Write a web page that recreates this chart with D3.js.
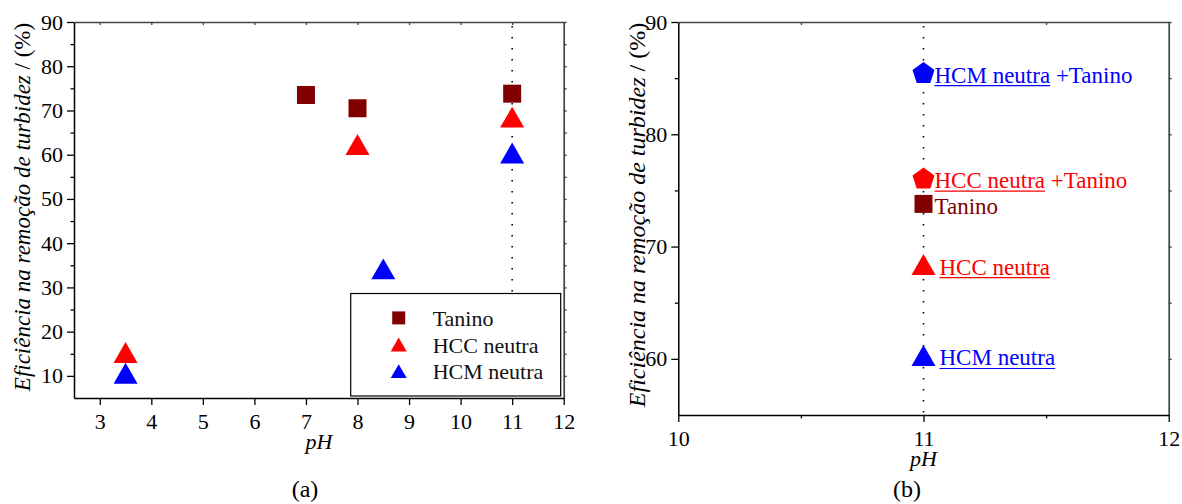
<!DOCTYPE html>
<html>
<head>
<meta charset="utf-8">
<script src="https://cdn.jsdelivr.net/npm/d3@7"></script>
<style>
  body { margin: 0; background: #fff; }
</style>
</head>
<body>
<div id="chart"></div>
<script>
// ---- panel (a): efficiency vs pH ----
const phTanino = [7, 8, 11];
const effTanino = [73.5, 70.5, 73.8];
const phHcc = [3.5, 8, 11];
const effHcc = [15.3, 62.3, 68.5];
const phHcm = [3.5, 8.5, 11];
const effHcm = [10.6, 34.2, 60.4];
const legendNames = ["Tanino", "HCC neutra", "HCM neutra"];
const xTicksA = [3, 4, 5, 6, 7, 8, 9, 10, 11, 12];
const yTicksA = [10, 20, 30, 40, 50, 60, 70, 80, 90];
const yMinorA = [15, 25, 35, 45, 55, 65, 75, 85];

// ---- panel (b): everything at pH 11 ----
const phB = 11;
const seriesB = ["HCM+T", "HCC+T", "Tanino", "HCC", "HCM"];
const underlinedB = ["HCM neutra", "HCC neutra", "", "HCC neutra", "HCM neutra"];
const suffixB = [" +Tanino", " +Tanino", "Tanino", "", ""];
const effB = [85.5, 76.1, 73.8, 68.4, 60.3];
const xTicksB = [10, 11, 12];
const xMinorB = [10.5, 11.5];
const yTicksB = [60, 70, 80, 90];
const yMinorB = [65, 75, 85];

const yTitle = "Eficiência na remoção de turbidez";

const W = 1182, H = 504;
const FONT = "'Liberation Serif', 'Times New Roman', Tinos, serif";
const maroon = "#800000", red = "#ff0000", blue = "#0000ff";

// custom symbols, size = box width in px
const triangle = {
  draw(ctx, w) {
    const h = w * 0.87;
    ctx.moveTo(0, -h / 2);
    ctx.lineTo(w / 2, h / 2);
    ctx.lineTo(-w / 2, h / 2);
    ctx.closePath();
  }
};
const pentagon = {
  draw(ctx, w) {
    const r = w / (2 * Math.sin(2 * Math.PI / 5));
    const h = r * (1 + Math.cos(Math.PI / 5));
    const cy = r - h / 2;
    for (let i = 0; i < 5; i++) {
      const a = -Math.PI / 2 + i * 2 * Math.PI / 5;
      const px = r * Math.cos(a), py = r * Math.sin(a) + cy;
      if (i === 0) ctx.moveTo(px, py); else ctx.lineTo(px, py);
    }
    ctx.closePath();
  }
};
const square = {
  draw(ctx, w) { ctx.rect(-w / 2, -w / 2, w, w); }
};

const styleOf = {
  "Tanino": { shape: square, color: maroon },
  "HCC": { shape: triangle, color: red },
  "HCM": { shape: triangle, color: blue },
  "HCC+T": { shape: pentagon, color: red },
  "HCM+T": { shape: pentagon, color: blue }
};

const svg = d3.select("#chart").append("svg")
  .attr("width", W).attr("height", H)
  .attr("font-family", FONT);

const fmt = d3.format("d");

function styleAxis(g, color, width, fontSize) {
  g.attr("font-family", FONT).attr("font-size", fontSize);
  g.select(".domain").attr("stroke", color).attr("stroke-width", width);
  g.selectAll(".tick line").attr("stroke", color).attr("stroke-width", 1.3);
  g.selectAll(".tick text").attr("fill", "#000").attr("font-family", FONT);
}

function frame(x, y, o) {
  const [x0, x1] = x.range();
  const [y0, y1] = y.range();
  const g = svg.append("g");

  // top & right mirror axes
  const top = g.append("g").attr("transform", `translate(0,${y1})`)
    .call(d3.axisTop(x).tickValues(o.topTicks).tickSize(-3).tickSizeOuter(0).tickFormat(""));
  styleAxis(top, "#444", 1.7, 22);
  const right = g.append("g").attr("transform", `translate(${x1},0)`)
    .call(d3.axisRight(y).tickValues(o.rightTicks).tickSize(3).tickSizeOuter(0).tickFormat(""));
  styleAxis(right, "#444", 1.7, 22);

  // left
  const left = g.append("g").attr("transform", `translate(${x0},0)`)
    .call(d3.axisLeft(y).tickValues(o.yTicks).tickFormat(fmt).tickSize(7).tickSizeOuter(0).tickPadding(4));
  styleAxis(left, "#000", 1.5, 22);
  const leftMinor = g.append("g").attr("transform", `translate(${x0},0)`)
    .call(d3.axisLeft(y).tickValues(o.yMinor).tickSize(3.5).tickFormat(""));
  styleAxis(leftMinor, "#000", 1.5, 22);
  leftMinor.select(".domain").remove();

  // bottom
  const bottom = g.append("g").attr("transform", `translate(0,${y0})`)
    .call(d3.axisBottom(x).tickValues(o.xTicks).tickFormat(fmt).tickSize(7).tickSizeOuter(0).tickPadding(8));
  styleAxis(bottom, "#000", 1.5, 22);
  if (o.xMinor) {
    const bm = g.append("g").attr("transform", `translate(0,${y0})`)
      .call(d3.axisBottom(x).tickValues(o.xMinor).tickSize(3.5).tickFormat(""));
    styleAxis(bm, "#000", 1.5, 22);
    bm.select(".domain").remove();
  }

  // titles
  const yt = svg.append("text")
    .attr("transform", `translate(${o.yTitleX},${o.yTitleY}) rotate(-90)`)
    .attr("text-anchor", "middle")
    .attr("font-size", o.yTitleSize)
    .attr("fill", "#000");
  yt.append("tspan").attr("font-style", "italic").text(yTitle);
  yt.append("tspan").text(" / (%)");

  svg.append("text")
    .attr("x", (x0 + x1) / 2).attr("y", y0 + 51)
    .attr("text-anchor", "middle")
    .attr("font-size", 22).attr("font-style", "italic")
    .text("pH");

  svg.append("text")
    .attr("x", o.tagX).attr("y", 497)
    .attr("text-anchor", "middle")
    .attr("font-size", 24)
    .text(o.tag);
}

function dotted(x, y, xv) {
  svg.append("line")
    .attr("x1", x(xv)).attr("x2", x(xv))
    .attr("y1", y.range()[1] + 4).attr("y2", y.range()[0])
    .attr("stroke", "#000").attr("stroke-width", 1.6)
    .attr("stroke-dasharray", "1.6 9.4");
}

// ================= panel (a) =================
const xA = d3.scaleLinear().domain([2.5, 12]).range([74, 563.7]);
const yA = d3.scaleLinear().domain([5, 90]).range([398, 22]);

frame(xA, yA, {
  xTicks: xTicksA, yTicks: yTicksA, yMinor: yMinorA,
  topTicks: xTicksA, rightTicks: yTicksA.concat(yMinorA),
  yTitleX: 30, yTitleY: 207, yTitleSize: 23,
  tagX: 305, tag: "(a)"
});

dotted(xA, yA, 11);

const seriesA = [
  { key: "Tanino", ph: phTanino, eff: effTanino, w: 18 },
  { key: "HCC", ph: phHcc, eff: effHcc, w: 24 },
  { key: "HCM", ph: phHcm, eff: effHcm, w: 24 }
];

seriesA.forEach(s => {
  const st = styleOf[s.key];
  svg.append("g").selectAll("path")
    .data(d3.zip(s.ph, s.eff))
    .join("path")
    .attr("transform", d => `translate(${xA(d[0])},${yA(d[1])})`)
    .attr("d", d3.symbol().type(st.shape).size(s.w))
    .attr("fill", st.color);
});

// legend
const lgX1 = xA(12) - 3, lgY1 = yA(5) - 2;
const lg = svg.append("g").attr("transform", `translate(${lgX1 - 210},${lgY1 - 102.5})`);
lg.append("rect").attr("width", 210).attr("height", 102.5)
  .attr("fill", "#fff").attr("stroke", "#000").attr("stroke-width", 1.2);
const lgRow = d3.scaleLinear().domain([0, 1]).range([24.4, 51]);
legendNames.forEach((name, i) => {
  const st = styleOf[seriesA[i].key];
  lg.append("path")
    .attr("transform", `translate(48,${lgRow(i)})`)
    .attr("d", d3.symbol().type(st.shape).size(i === 0 ? 13 : 16))
    .attr("fill", st.color);
  lg.append("text")
    .attr("x", 82).attr("y", lgRow(i) + 8)
    .attr("font-size", 22).attr("fill", "#111")
    .text(name);
});

// ================= panel (b) =================
const xB = d3.scaleLinear().domain([10, 12]).range([678.3, 1168.7]);
const yB = d3.scaleLinear().domain([55, 90]).range([415, 22]);

frame(xB, yB, {
  xTicks: xTicksB, xMinor: xMinorB, yTicks: yTicksB, yMinor: yMinorB,
  topTicks: xMinorB, rightTicks: yTicksB.concat(yMinorB),
  yTitleX: 645, yTitleY: 215, yTitleSize: 24,
  tagX: 907, tag: "(b)"
});

dotted(xB, yB, phB);

seriesB.forEach((key, i) => {
  const st = styleOf[key];
  const cx = xB(phB), cy = yB(effB[i]);
  const w = st.shape === square ? 18 : (st.shape === pentagon ? 22 : 24);
  svg.append("path")
    .attr("transform", `translate(${cx},${cy})`)
    .attr("d", d3.symbol().type(st.shape).size(w))
    .attr("fill", st.color);

  const tx = cx + (st.shape === triangle ? 16 : 11);
  const ty = cy + 10;
  const t = svg.append("text")
    .attr("x", tx).attr("y", ty)
    .attr("font-size", 23)
    .attr("fill", st.color)
    .style("white-space", "pre");
  t.append("tspan").text(underlinedB[i]);
  t.append("tspan").text(suffixB[i]);
  if (underlinedB[i]) {
    const len = t.node().getSubStringLength(0, underlinedB[i].length);
    svg.append("line")
      .attr("x1", tx).attr("x2", tx + len)
      .attr("y1", ty + 3).attr("y2", ty + 3)
      .attr("stroke", st.color).attr("stroke-width", 1.2);
  }
});
</script>
</body>
</html>
